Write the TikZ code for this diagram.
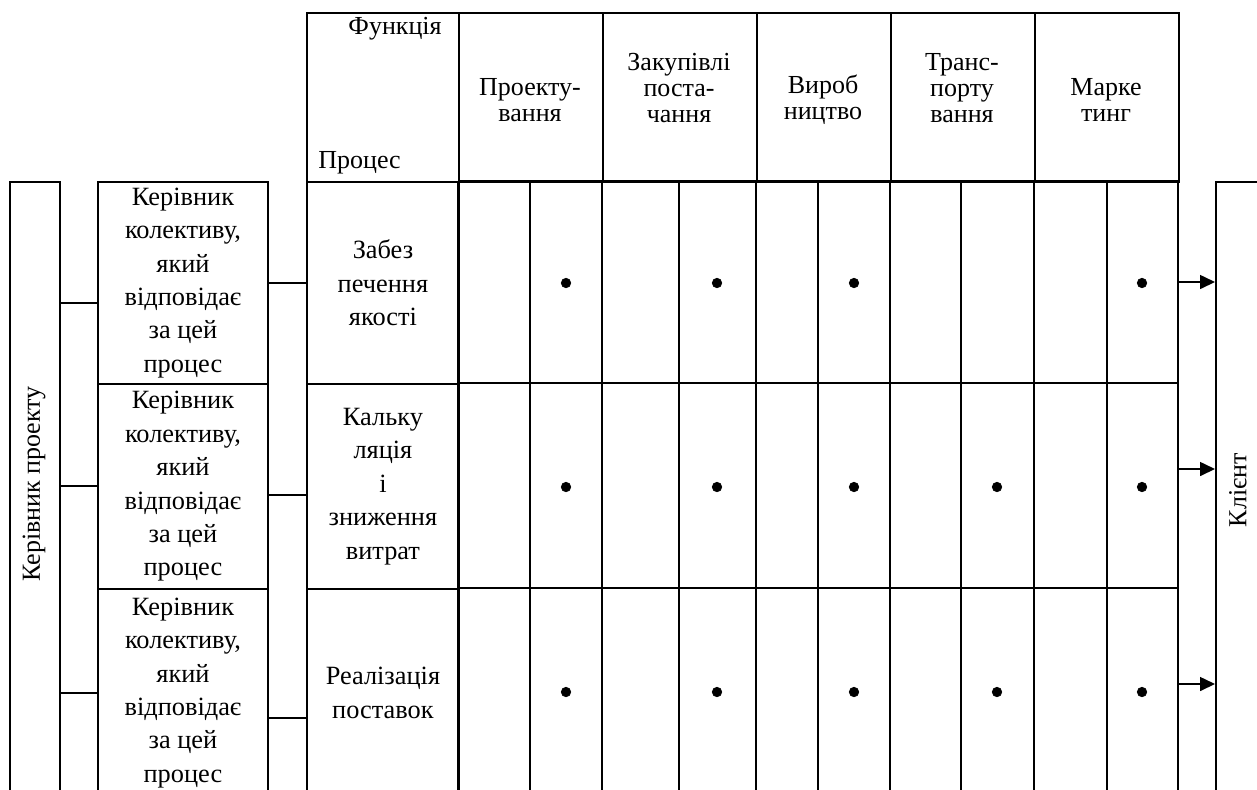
\documentclass[tikz,border=0pt]{standalone}
\usepackage{fontspec}
\setmainfont{Liberation Serif}
\usetikzlibrary{arrows.meta}
\tikzset{
  cell/.style={draw, line width=1.1pt, inner sep=0pt, align=center, anchor=north west, font=\fontsize{15}{19}\selectfont},
  headtext/.style={align=center, inner sep=0pt, font=\fontsize{14.8}{14.8}\selectfont},
  plaintext/.style={inner sep=0pt, font=\fontsize{14.8}{19}\selectfont},
  link/.style={line width=1.1pt},
  toclient/.style={line width=0.9pt, -{Triangle[length=0.3cm,width=0.28cm]}}
}
\begin{document}
\begin{tikzpicture}[x=0.02cm, y=-0.02cm]
\useasboundingbox (0,0) rectangle (1257,789);
\clip (0,0) rectangle (1257,789);

\node[cell, minimum width=1cm, minimum height=16cm] (pm) at (9,181) {};
\node[plaintext, rotate=90] (pmname) at (34,484) {Керівник проекту};
\node[cell, minimum width=2cm, minimum height=16cm] (cl) at (1215,181) {};
\node[plaintext, rotate=90] (clname) at (1238,490) {Клієнт};

\node[cell, minimum width=3.04cm, minimum height=3.38cm] (ph) at (306,12) {};
\node[plaintext, anchor=east] (fn) at (442,29) {Функція};
\node[plaintext, anchor=west] (pr) at (318,163) {Процес};
\foreach \x/\w/\n in {458/2.88/1, 602/3.08/2, 756/2.68/3, 890/2.88/4, 1034/2.88/5}
  \node[cell, minimum width=\w cm, minimum height=3.38cm] (f\n) at (\x,12) {};
\node[headtext] (t1) at (530,100) {Проекту-\\вання};
\node[headtext] (t2) at (679,88) {Закупівлі\\поста-\\чання};
\node[headtext] (t3) at (823,100) {Вироб\\ництво};
\node[headtext] (t4) at (962,88) {Транс-\\порту\\вання};
\node[headtext] (t5) at (1106,100) {Марке\\тинг};

\foreach \y/\h/\n in {181/4.04/1, 383/4.10/2, 588/4.16/3}
  \node[cell, minimum width=3.4cm, minimum height=\h cm] (m\n) at (97,\y) {Керівник\\колективу,\\який\\відповідає\\за цей\\процес};
\node[cell, minimum width=3.04cm, minimum height=4.04cm] (p1) at (306,181) {Забез\\печення\\якості};
\node[cell, minimum width=3.04cm, minimum height=4.10cm] (p2) at (306,383) {Кальку\\ляція\\і\\зниження\\витрат};
\node[cell, minimum width=3.04cm, minimum height=4.16cm] (p3) at (306,588) {Реалізація\\поставок};

\foreach \x in {458,530,602,679,756,818,890,961,1034,1107,1178}
  \draw[link] (\x,181) -- (\x,800);
\foreach \y in {181,383,588}
  \draw[link] (458,\y) -- (1178,\y);

\foreach \x in {566,717,854,1142}
  \filldraw (\x,283) circle (0.095cm);
\foreach \y in {487,692}
  \foreach \x in {566,717,854,997,1142}
    \filldraw (\x,\y) circle (0.095cm);

\draw[link] ([yshift=-0.4cm]m1.west) -- ([yshift=-0.4cm]m1.west -| pm.east);
\draw[link] (m2.west) -- (m2.west -| pm.east);
\draw[link] (m3.west) -- (m3.west -| pm.east);
\draw[link] (m1.east) -- (m1.east -| p1.west);
\draw[link] ([yshift=-0.17cm]m2.east) -- ([yshift=-0.17cm]m2.east -| p2.west);
\draw[link] ([yshift=-0.5cm]m3.east) -- ([yshift=-0.5cm]m3.east -| p3.west);

\coordinate (e1) at (1178,282);
\coordinate (e2) at (1178,469);
\coordinate (e3) at (1178,684);
\foreach \n in {1,2,3}
  \draw[toclient] (e\n) -- (e\n -| cl.west);
\end{tikzpicture}
\end{document}
